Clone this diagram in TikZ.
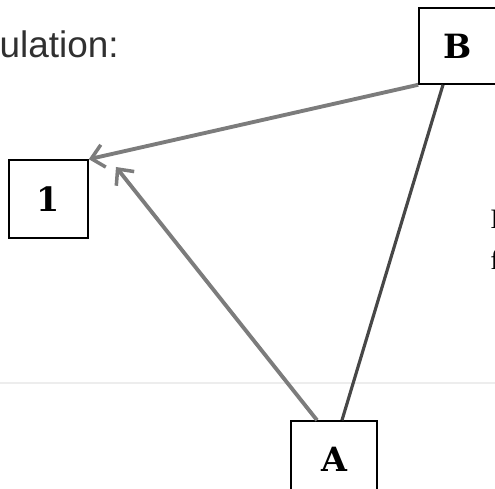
\documentclass[tikz,border=0pt]{standalone}
\usepackage{fontspec}
\setmainfont{Liberation Serif}
\newfontfamily\labelfont{Liberation Sans}
\newfontfamily\boxfont{DejaVu Serif}
\definecolor{inkgrey}{HTML}{7C7C7C}
\definecolor{darkink}{HTML}{474747}
\definecolor{scanline}{HTML}{EDEDED}
\definecolor{textgrey}{HTML}{303030}
\usetikzlibrary{positioning, arrows.meta}

\begin{document}
\begin{tikzpicture}[x=0.02cm, y=-0.02cm,
  cell/.style={draw=black, line width=0.9pt, fill=white, inner sep=0pt,
               font=\boxfont\bfseries\fontsize{19}{22}\selectfont},
  pull/.style={-{Straight Barb[length=7pt, width=13pt, line width=2pt]}, line width=2.2pt, inkgrey},
  link/.style={line width=1.8pt, darkink}]
  \useasboundingbox (0,0) rectangle (495,489);
  % Scan trace
  \draw[scanline, line width=1.5pt] (0,383) -- (495,383);
  % Heading
  \node[anchor=base east, inner sep=0pt, textgrey,
        font=\labelfont\fontsize{21}{25}\selectfont] (head) at (119,58) {ulation:};
  % Boxes
  \node[cell, minimum width=1.58cm, minimum height=1.56cm] (one) at (48.5,199) {1};
  \node[cell, minimum width=1.54cm, minimum height=1.52cm] (bee) at (457.5,46) {B};
  \node[cell, minimum width=1.72cm, minimum height=1.52cm] (ay) at (334,459) {A};
  \coordinate (tip) at (116,167);
  % Connectors
  \draw[pull] (bee.south west) -- (one.north east);
  \draw[pull] ([xshift=-0.34cm]ay.north) -- (tip);
  \draw[link] ([xshift=-0.29cm]bee.south) -- ([xshift=0.16cm]ay.north);
  % Cut-off text at the right edge
  \node[anchor=west, inner sep=0pt, font=\fontsize{16}{19}\selectfont] (cutI) at (490,219) {I};
  \node[anchor=west, inner sep=0pt, font=\fontsize{16}{19}\selectfont] (cutF) at (490,260) {f};
\end{tikzpicture}
\end{document}
